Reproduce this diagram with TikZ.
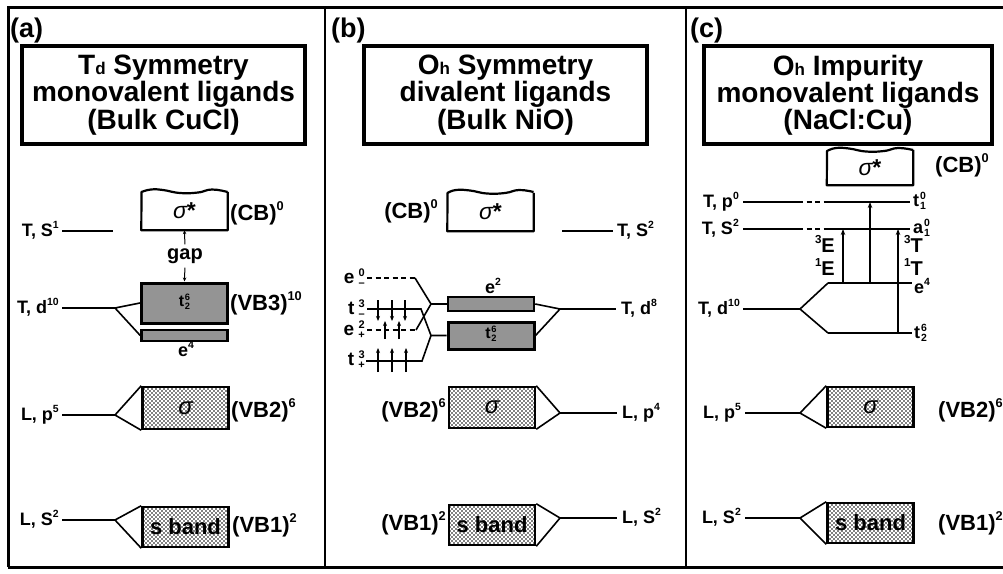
\documentclass[tikz,border=0pt]{standalone}
\usepackage{fontspec}
\setmainfont{Liberation Sans}
\usepackage{graphicx}
\usetikzlibrary{arrows.meta,patterns}
\pgfdeclarepatternformonly{bigdots}{\pgfqpoint{-1pt}{-1pt}}{\pgfqpoint{5pt}{5pt}}{\pgfqpoint{4pt}{4pt}}{%
  \pgfpathcircle{\pgfqpoint{0pt}{0pt}}{0.85pt}%
  \pgfpathcircle{\pgfqpoint{2pt}{2pt}}{0.85pt}%
  \pgfusepath{fill}}
\newcommand\ud[2]{\hspace{0.05em}\raisebox{0.05em}{\scalebox{0.58}{\def\arraystretch{0.92}\begin{tabular}[c]{@{}c@{}}#1\\#2\end{tabular}}}}
\newcommand\sups[1]{\raisebox{0.42em}{\scalebox{0.58}{#1}}}
\begin{document}
\begin{tikzpicture}[x=1pt,y=-1pt,
 lab/.style={font=\fontsize{18}{18}\selectfont\bfseries, inner sep=0pt},
 slab/.style={font=\fontsize{19}{19}\selectfont\bfseries, inner sep=0pt},
 big/.style={font=\fontsize{22}{22}\selectfont\bfseries, inner sep=0pt},
 plab/.style={font=\fontsize{27}{27}\selectfont\bfseries, inner sep=0pt},
 elab/.style={font=\fontsize{20}{20}\selectfont\bfseries, inner sep=0pt},
 ttl/.style={draw, line width=4pt, font=\fontsize{28}{25}\selectfont\bfseries, align=center, inner sep=0pt, minimum height=98pt},
 lvl/.style={line width=1.6pt},
 dlvl/.style={line width=1.6pt, dash pattern=on 5pt off 3.5pt},
 cbtxt/.style={inner sep=0pt, minimum width=86pt, font=\fontsize{23}{23}\selectfont\itshape},
 cbline/.style={line width=2.2pt, line join=round},
 vbox/.style={draw, line width=3pt, fill=black!42, inner sep=0pt, minimum width=86pt},
 sbox/.style={draw, line width=2.5pt, pattern=bigdots, inner sep=0pt, minimum width=86pt, font=\fontsize{22}{22}\selectfont\bfseries},
 spin/.style={line width=1.1pt, -{Stealth[length=5pt,width=4pt]}},
 trans/.style={line width=1.2pt, -{Stealth[length=6pt,width=4.5pt]}},
 gapar/.style={line width=1pt, -{Stealth[length=4pt,width=3.5pt]}},
 frame/.style={line width=3pt}
]
\useasboundingbox (0,0) rectangle (1003,573);
\fill[white] (0,0) rectangle (1003,573);
\clip (0,0) rectangle (1003,573);

% ---------- frame ----------
\draw[frame] (8,567) -- (8,7) -- (1010,7);
\draw[frame] (8,567) -- (1010,567);
\draw[line width=2.5pt] (325,7) -- (325,567);
\draw[line width=2pt] (686,7) -- (686,567);

% ---------- panel (a) ----------
\node[plab, anchor=base west] (pa) at (10,37) {(a)};
\node[ttl, minimum width=283pt] (ta) at (163.5,95) {T{\fontsize{17}{17}\selectfont d} Symmetry\\monovalent ligands\\(Bulk CuCl)};

\node[cbtxt, minimum height=38pt] (aCB) at (184.5,211) {σ{\upshape\bfseries *}};
\draw[cbline] (aCB.north east) -- (aCB.south east) -- (aCB.south west) -- plot[smooth,tension=.8] coordinates {(141.5,192) (151,189.5) (163,190) (180,193) (198,192.5) (212,189.5) (227.5,192)};
\node[big, anchor=base west] (aCBl) at (230,220) {(CB)\sups{0}};

\coordinate (aS1l) at (62,231); \coordinate (aS1r) at (113,231);
\draw[lvl] (aS1l) -- (aS1r);
\node[lab, anchor=base east] (aS1) at (59,236) {T, S\sups{1}};

\node[vbox, minimum height=40pt] (aT2) at (184.5,303) {\fontsize{16}{16}\selectfont\bfseries t\ud{6}{2}};
\node[vbox, line width=2.5pt, minimum height=11pt] (aE4) at (184.5,335.5) {};
\node[lab, anchor=base] (aE4l) at (186,356) {e\sups{4}};
\node[big, anchor=base west] (aVB3l) at (230,310) {(VB3)\sups{10}};

\node[font=\fontsize{20}{20}\selectfont\bfseries, inner sep=0pt] (gap) at (185,256) {gap};
\draw[gapar, shorten <=4pt] (gap.north) -- (aCB.south);
\draw[gapar, shorten <=4pt] (gap.south) -- (aT2.north);

\coordinate (aD10l) at (62,308); \coordinate (aD10r) at (115,308);
\draw[lvl] (aD10l) -- (aD10r);
\draw[lvl] (aT2.west) -- (aD10r) -- (aE4.west);
\node[lab, anchor=base east] (aD10) at (59,313) {T, d\sups{10}};

\node[sbox, minimum height=42pt] (aVB2) at (185.5,408) {{\fontsize{24}{24}\selectfont\itshape\mdseries σ}};
\coordinate (aP5l) at (62,415); \coordinate (aP5r) at (115,415);
\draw[lvl] (aP5l) -- (aP5r);
\draw[lvl] (aVB2.north west) -- (aP5r) -- (aVB2.south west);
\node[lab, anchor=base east] (aP5) at (59,420) {L, p\sups{5}};
\node[big, anchor=base west] (aVB2l) at (231,417) {(VB2)\sups{6}};

\node[sbox, minimum height=40pt] (aVB1) at (185.5,527) {s band};
\coordinate (aL2l) at (62,520); \coordinate (aL2r) at (115,520);
\draw[lvl] (aL2l) -- (aL2r);
\draw[lvl] (aVB1.north west) -- (aL2r) -- (aVB1.south west);
\node[lab, anchor=base east] (aL2) at (59,525) {L, S\sups{2}};
\node[big, anchor=base west] (aVB1l) at (232,532) {(VB1)\sups{2}};

% ---------- panel (b) ----------
\node[plab, anchor=base west] (pb) at (331,37) {(b)};
\node[ttl, minimum width=283pt] (tb) at (505.5,95) {O{\fontsize{17}{17}\selectfont h} Symmetry\\divalent ligands\\(Bulk NiO)};

\node[cbtxt, minimum height=38pt] (bCB) at (490.5,212) {σ{\upshape\bfseries *}};
\draw[cbline] (bCB.north east) -- (bCB.south east) -- (bCB.south west) -- plot[smooth,tension=.8] coordinates {(447.5,193) (456,190) (470,190.5) (487,193.5) (505,193) (519,190) (533.5,192)};
\node[big, anchor=base east] (bCBl) at (438,218) {(CB)\sups{0}};

\coordinate (bS2l) at (562,231); \coordinate (bS2r) at (613,231);
\draw[lvl] (bS2l) -- (bS2r);
\node[lab, anchor=base west] (bS2) at (617,236) {T, S\sups{2}};

\node[vbox, line width=2.5pt, minimum height=14pt] (bE2) at (491,304) {};
\node[lab, anchor=base] (bE2l) at (493,293) {e\sups{2}};
\node[vbox, minimum height=27pt] (bT2) at (491,335.5) {\fontsize{16}{16}\selectfont\bfseries t\ud{6}{2}};

\coordinate (bD8v) at (560,309); \coordinate (bD8r) at (616,309);
\draw[lvl] (bD8v) -- (bD8r);
\draw[lvl] (bE2.east) -- (bD8v) -- (bT2.east);
\node[lab, anchor=base west] (bD8) at (621,314) {T, d\sups{8}};

\coordinate (bVe) at (431,304); \coordinate (bVt) at (431,335.5);
% e-0
\coordinate (e0a) at (367,278); \coordinate (e0b) at (415,278);
\draw[dlvl] (e0a) -- (e0b);
\draw[lvl] (e0b) -- (bVe) -- (bE2.west);
\node[slab, anchor=base east] (e0l) at (365,283) {e\,\ud{0}{–}};
% t-3
\coordinate (t3a) at (367,309); \coordinate (t3b) at (421,309);
\draw[lvl] (t3a) -- (t3b) -- (bVt) -- (bT2.west);
\node[slab, anchor=base east] (t3l) at (365,314) {t\,\ud{3}{–}};
\foreach \x in {378,392,405} \draw[spin] (\x,300) -- (\x,321);
% e+2
\coordinate (e2a) at (367,330); \coordinate (e2b) at (416,330);
\draw[dlvl] (e2a) -- (e2b);
\draw[lvl] (e2b) -- (bVe);
\node[slab, anchor=base east] (e2l) at (365,335) {e\,\ud{2}{+}};
\foreach \x in {385,399} \draw[spin] (\x,339) -- (\x,321);
% t+3
\coordinate (t3pa) at (366,361); \coordinate (t3pb) at (422,361);
\draw[lvl] (t3pa) -- (t3pb) -- (bVt);
\node[slab, anchor=base east] (t3pl) at (365,365) {t\,\ud{3}{+}};
\foreach \x in {378,392,406} \draw[spin] (\x,372) -- (\x,348);

\node[sbox, minimum height=41pt] (bVB2) at (492,407.5) {{\fontsize{24}{24}\selectfont\itshape\mdseries σ}};
\coordinate (bP4v) at (560,413); \coordinate (bP4r) at (617,413);
\draw[lvl] (bP4v) -- (bP4r);
\draw[lvl] (bVB2.north east) -- (bP4v) -- (bVB2.south east);
\node[lab, anchor=base west] (bP4) at (622,418) {L, p\sups{4}};
\node[big, anchor=base east] (bVB2l) at (446,417) {(VB2)\sups{6}};

\node[sbox, minimum height=40pt] (bVB1) at (492,525) {s band};
\coordinate (bL2v) at (560,518); \coordinate (bL2r) at (617,518);
\draw[lvl] (bL2v) -- (bL2r);
\draw[lvl] (bVB1.north east) -- (bL2v) -- (bVB1.south east);
\node[lab, anchor=base west] (bL2) at (622,523) {L, S\sups{2}};
\node[big, anchor=base east] (bVB1l) at (446,530) {(VB1)\sups{2}};

% ---------- panel (c) ----------
\node[plab, anchor=base west] (pc) at (690,37) {(c)};
\node[ttl, minimum width=288pt] (tc) at (848,95) {O{\fontsize{17}{17}\selectfont h} Impurity\\monovalent ligands\\(NaCl:Cu)};

\node[cbtxt, minimum height=35pt] (cCB) at (870,167.5) {σ{\upshape\bfseries *}};
\draw[cbline] (cCB.north east) -- (cCB.south east) -- (cCB.south west) -- plot[smooth,tension=.8] coordinates {(827,151) (836,148) (849,148.5) (866,151.5) (884,151) (898,148) (913,150)};
\node[big, anchor=base west] (cCBl) at (935,172) {(CB)\sups{0}};

\coordinate (cP0a) at (743,202); \coordinate (cP0b) at (798,202);
\coordinate (cP0c) at (827,202); \coordinate (cP0d) at (910,202);
\draw[lvl] (cP0a) -- (cP0b); \draw[dlvl] (cP0b) -- (cP0c); \draw[lvl] (cP0c) -- (cP0d);
\node[lab, anchor=base east] (cP0) at (739,207) {T, p\sups{0}};
\node[lab, anchor=base west] (cT1) at (913,206) {t\ud{0}{1}};

\coordinate (cS2a) at (743,229); \coordinate (cS2b) at (798,229);
\coordinate (cS2c) at (827,229); \coordinate (cS2d) at (910,229);
\draw[lvl] (cS2a) -- (cS2b); \draw[dlvl] (cS2b) -- (cS2c); \draw[lvl] (cS2c) -- (cS2d);
\node[lab, anchor=base east] (cS2) at (739,234) {T, S\sups{2}};
\node[lab, anchor=base west] (cA1) at (913,233) {a\ud{0}{1}};

\coordinate (cE4a) at (828,283); \coordinate (cE4b) at (912,283);
\draw[lvl] (cE4a) -- (cE4b);
\node[lab, anchor=base west] (cE4l) at (914,293) {e\sups{4}};
\coordinate (cT2a) at (828,333); \coordinate (cT2b) at (912,333);
\draw[lvl] (cT2a) -- (cT2b);
\node[lab, anchor=base west] (cT2l) at (914,338) {t\ud{6}{2}};

\coordinate (cD10a) at (743,309); \coordinate (cD10v) at (800,309);
\draw[lvl] (cD10a) -- (cD10v);
\draw[lvl] (cE4a) -- (cD10v) -- (cT2a);
\node[lab, anchor=base east] (cD10) at (740,314) {T, d\sups{10}};

\coordinate (x1a) at (843,283); \coordinate (x1b) at (843,229);
\coordinate (x2a) at (870,283); \coordinate (x2b) at (870,202);
\coordinate (x3a) at (898,333); \coordinate (x3b) at (898,229);
\draw[trans] (x1a) -- (x1b);
\draw[trans] (x2a) -- (x2b);
\draw[trans] (x3a) -- (x3b);
\node[elab, anchor=base east] (c3E) at (835,252) {\sups{3}E};
\node[elab, anchor=base east] (c1E) at (835,275) {\sups{1}E};
\node[elab, anchor=base west] (c3T) at (904,252) {\sups{3}T};
\node[elab, anchor=base west] (c1T) at (904,275) {\sups{1}T};

\node[sbox, minimum height=40pt] (cVB2) at (870.5,407) {{\fontsize{24}{24}\selectfont\itshape\mdseries σ}};
\coordinate (cP5l) at (745,413); \coordinate (cP5r) at (800,413);
\draw[lvl] (cP5l) -- (cP5r);
\draw[lvl] (cVB2.north west) -- (cP5r) -- (cVB2.south west);
\node[lab, anchor=base east] (cP5) at (741,418) {L, p\sups{5}};
\node[big, anchor=base west] (cVB2l) at (938,417) {(VB2)\sups{6}};

\node[sbox, minimum height=40pt] (cVB1) at (870.5,523) {s band};
\coordinate (cL2l) at (745,518); \coordinate (cL2r) at (800,518);
\draw[lvl] (cL2l) -- (cL2r);
\draw[lvl] (cVB1.north west) -- (cL2r) -- (cVB1.south west);
\node[lab, anchor=base east] (cL2) at (741,523) {L, S\sups{2}};
\node[big, anchor=base west] (cVB1l) at (938,530) {(VB1)\sups{2}};
\end{tikzpicture}
\end{document}
